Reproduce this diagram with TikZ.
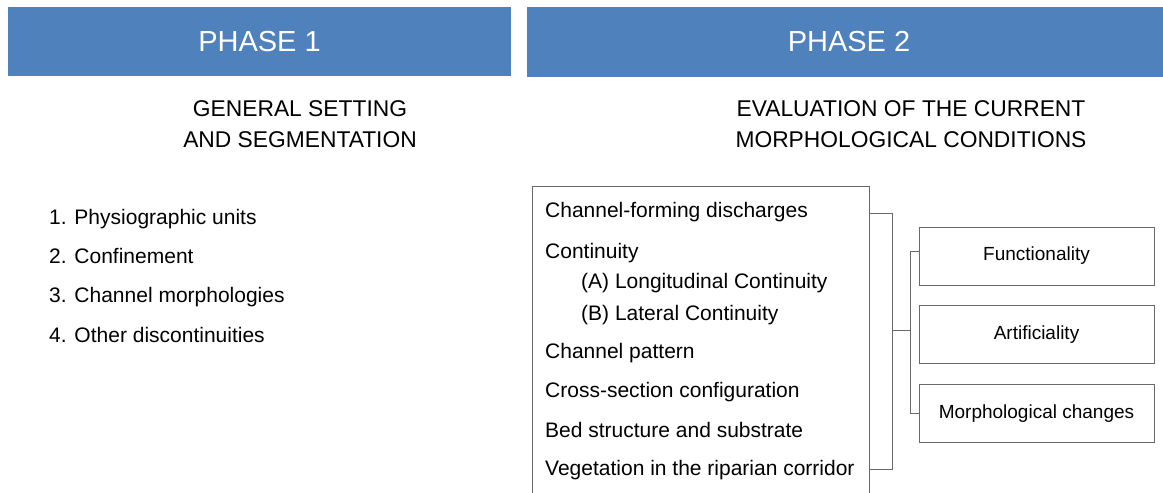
\documentclass[tikz,border=0pt]{standalone}
\usepackage{fontspec}
\setmainfont{Liberation Sans}
\definecolor{barblue}{RGB}{79,129,189}
\definecolor{linegray}{RGB}{105,105,105}
\begin{document}
\begin{tikzpicture}[x=1pt,y=-1pt,
 bar/.style={fill=barblue, text=white, inner sep=0pt, font=\fontsize{29}{34}\selectfont},
 subtitle/.style={align=center, inner sep=0pt, font=\fontsize{22.8}{31}\selectfont},
 item/.style={anchor=base west, inner sep=0pt, font=\fontsize{21}{25}\selectfont},
 resbox/.style={draw=linegray, line width=1pt, minimum width=235pt, minimum height=58pt, inner sep=0pt, font=\fontsize{19}{23}\selectfont},
 conn/.style={draw=linegray, line width=1pt}]
\useasboundingbox (0,0) rectangle (1163,493);
\clip (0,0) rectangle (1163,493);
\fill[white] (0,0) rectangle (1163,493);
% headers
\node[bar, minimum width=503pt, minimum height=69pt] (p1) at (259.5,41.5) {PHASE 1};
\node[bar, minimum width=644pt, minimum height=70pt] (p2) at (849,42) {PHASE 2};
\node[subtitle] (s1) at (300,124.5) {GENERAL SETTING\\AND SEGMENTATION};
\node[subtitle] (s2) at (911,124.5) {EVALUATION OF THE CURRENT\\MORPHOLOGICAL CONDITIONS};
% phase 1 list
\node[item] (l1) at (49,224) {1. Physiographic units};
\node[item] (l2) at (49,263) {2. Confinement};
\node[item] (l3) at (49,302) {3. Channel morphologies};
\node[item] (l4) at (49,342) {4. Other discontinuities};
% phase 2 main box
\node[draw=linegray, line width=1pt, anchor=north west, minimum width=337pt, minimum height=330pt, inner sep=0pt] (main) at (532,186) {};
\node[item] (m1) at (545,217) {Channel-forming discharges};
\node[item] (m2) at (545,258) {Continuity};
\node[item] (m2a) at (581,288) {(A) Longitudinal Continuity};
\node[item] (m2b) at (581,320) {(B) Lateral Continuity};
\node[item] (m3) at (545,358) {Channel pattern};
\node[item] (m4) at (545,397) {Cross-section configuration};
\node[item] (m5) at (545,437) {Bed structure and substrate};
\node[item] (m6) at (545,475) {Vegetation in the riparian corridor};
% result boxes
\node[resbox] (func) at (1036.5,256) {Functionality};
\node[resbox] (art) at (1036.5,334.5) {Artificiality};
\node[resbox] (morph) at (1036.5,413.5) {Morphological changes};
% connectors
\coordinate (bt) at (892,213);
\coordinate (bb) at (892,469);
\coordinate (bm) at (892,330);
\coordinate (sm) at (910,330);
\draw[conn] (main.east |- bt) -- (bt) -- (bb) -- (main.east |- bb);
\draw[conn] (bm) -- (sm);
\draw[conn] ([yshift=5pt]func.west) -- ([yshift=5pt]func.west -| sm) -- (morph.west -| sm) -- (morph.west);
\end{tikzpicture}
\end{document}
